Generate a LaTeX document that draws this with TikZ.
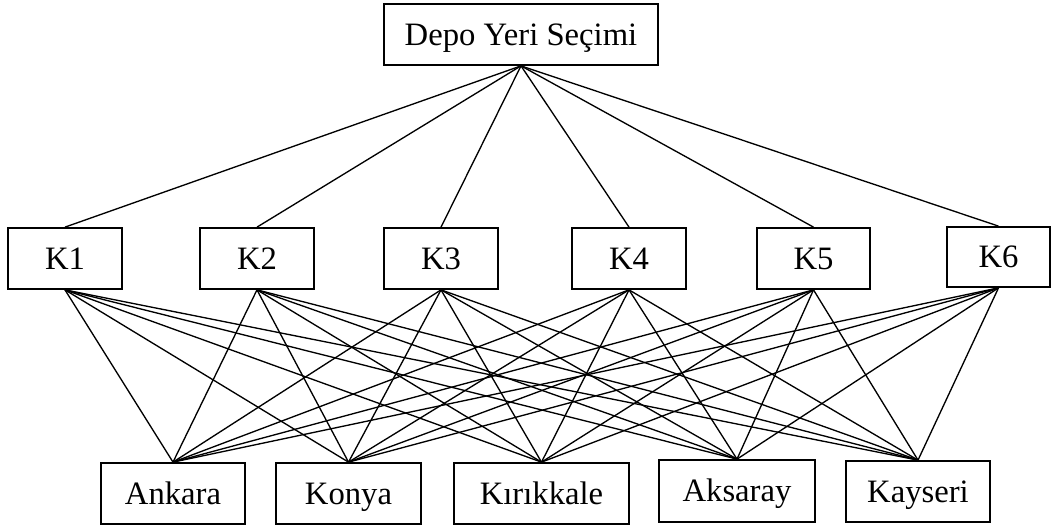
\documentclass[tikz,border=0pt]{standalone}
\usepackage{fontspec}
\setmainfont{Liberation Serif}
\begin{document}
\begin{tikzpicture}[x=0.75pt,y=-0.75pt,
  box/.style={draw,line width=1.3pt,inner sep=0pt,text height=16pt,text depth=0pt,font=\fontsize{24.5}{28}\selectfont},
  link/.style={line width=1pt}]
\useasboundingbox (0,0) rectangle (1052,527);
\node[box,minimum width=205pt,minimum height=45.75pt] (top) at (521,34.5) {Depo Yeri Seçimi};
\foreach \n/\x/\w in {K1/65/114,K2/257/114,K3/441/114,K4/629/114,K5/813.5/113}
  \node[box,minimum width=\w*0.75pt,minimum height=45.75pt] (\n) at (\x,258.5) {\n};
\node[box,minimum width=77.5pt,minimum height=45pt] (K6) at (998.5,257) {K6};
\node[box,minimum width=108pt,minimum height=45.75pt] (b1) at (173,493.5) {Ankara};
\node[box,minimum width=108.75pt,minimum height=45.75pt] (b2) at (348.5,493.5) {Konya};
\node[box,minimum width=131.25pt,minimum height=45.75pt] (b3) at (541.5,493.5) {Kırıkkale};
\node[box,minimum width=117pt,minimum height=46.5pt] (b4) at (737,491) {Aksaray};
\node[box,minimum width=108pt,minimum height=45.75pt] (b5) at (918,491.5) {Kayseri};
\foreach \k in {K1,K2,K3,K4,K5,K6}{
  \draw[link] (top.south) -- (\k.north);
  \foreach \b in {b1,b2,b3,b4,b5}
    \draw[link] (\k.south) -- (\b.north);
}
\end{tikzpicture}
\end{document}
